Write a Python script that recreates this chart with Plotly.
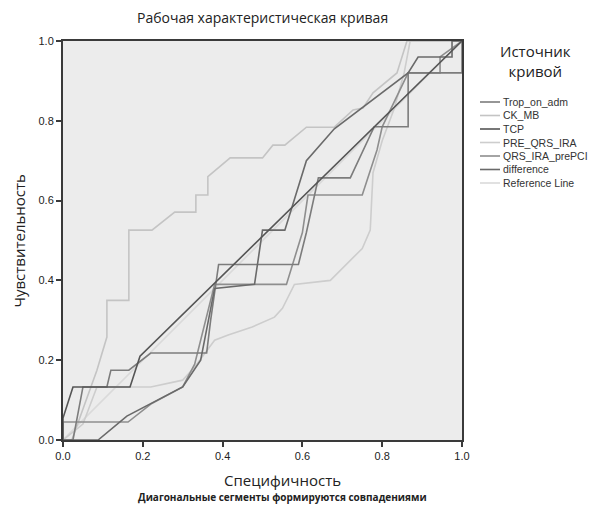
import plotly.graph_objects as go

# ---------------- data ----------------
names = ["Trop_on_adm", "CK_MB", "TCP", "PRE_QRS_IRA", "QRS_IRA_prePCI", "difference", "Reference Line"]
colors = ["#7c7c7c", "#c4c4c4", "#555555", "#cdcdcd", "#8e8e8e", "#6a6a6a", "#dadada"]

trop_x = [0, 0.025, 0.05, 0.11, 0.12, 0.165, 0.22, 0.36, 0.37, 0.39, 0.59, 0.61, 0.64, 0.72, 0.78, 0.865, 0.865, 1.0, 1.0]
trop_y = [0, 0, 0.133, 0.133, 0.175, 0.175, 0.218, 0.218, 0.30, 0.44, 0.44, 0.52, 0.657, 0.657, 0.785, 0.785, 0.92, 0.92, 1.0]

ckmb_x = [0, 0.022, 0.085, 0.11, 0.11, 0.165, 0.165, 0.223, 0.28, 0.333, 0.333, 0.363, 0.363, 0.419, 0.50, 0.526, 0.556, 0.61, 0.68, 0.727, 0.752, 0.777, 0.837, 0.862, 1.0]
ckmb_y = [0, 0, 0.175, 0.258, 0.35, 0.35, 0.526, 0.526, 0.571, 0.571, 0.614, 0.614, 0.66, 0.707, 0.707, 0.739, 0.739, 0.784, 0.784, 0.827, 0.832, 0.87, 0.92, 1.0, 1.0]

tcp_x = [0, 0, 0.025, 0.168, 0.193, 1.0]
tcp_y = [0, 0.055, 0.133, 0.133, 0.21, 1.0]

preqrs_x = [0, 0.05, 0.085, 0.22, 0.30, 0.33, 0.38, 0.414, 0.474, 0.53, 0.55, 0.58, 0.67, 0.71, 0.75, 0.77, 0.777, 0.80, 0.83, 0.855, 0.87, 1.0]
preqrs_y = [0, 0.04, 0.133, 0.133, 0.15, 0.183, 0.25, 0.263, 0.283, 0.308, 0.33, 0.39, 0.40, 0.44, 0.48, 0.526, 0.67, 0.75, 0.83, 0.92, 1.0, 1.0]

qrs_x = [0, 0, 0.163, 0.22, 0.30, 0.33, 0.38, 0.41, 0.56, 0.60, 0.614, 0.75, 0.787, 0.80, 0.865, 0.945, 0.945, 1.0]
qrs_y = [0, 0.045, 0.045, 0.09, 0.133, 0.19, 0.39, 0.39, 0.39, 0.52, 0.614, 0.614, 0.727, 0.785, 0.92, 0.92, 0.96, 1.0]

diff_x = [0, 0.088, 0.16, 0.30, 0.345, 0.38, 0.48, 0.50, 0.556, 0.61, 0.68, 0.80, 0.865, 0.89, 0.975, 0.975, 1.0]
diff_y = [0, 0, 0.06, 0.133, 0.20, 0.38, 0.39, 0.526, 0.526, 0.70, 0.78, 0.87, 0.92, 0.96, 0.96, 1.0, 1.0]

ref_x = [0, 1]
ref_y = [0, 1]

series = [(trop_x, trop_y), (ckmb_x, ckmb_y), (tcp_x, tcp_y), (preqrs_x, preqrs_y),
          (qrs_x, qrs_y), (diff_x, diff_y), (ref_x, ref_y)]

x_ticks = [0.0, 0.2, 0.4, 0.6, 0.8, 1.0]
y_ticks = [0.0, 0.2, 0.4, 0.6, 0.8, 1.0]

title_text = "Рабочая характеристическая кривая"
x_title = "Специфичность"
x_subtitle = "Диагональные сегменты формируются совпадениями"
y_title = "Чувствительность"
legend_title = "Источник<br>кривой"

# ---------------- figure ----------------
fig = go.Figure()
draw_order = [6, 3, 1, 4, 0, 5, 2]
for i in draw_order:
    xs, ys = series[i]
    fig.add_trace(go.Scatter(x=xs, y=ys, mode="lines", name=names[i],
                             line=dict(color=colors[i], width=1.6),
                             showlegend=False, hoverinfo="skip"))

W, H = 592, 506
ml, mr, mt, mb = 63, 130, 41, 66

axis_common = dict(range=[0, 1], showgrid=False, zeroline=False, showline=True,
                   linecolor="#3a3a3a", linewidth=2, mirror=True, ticks="outside",
                   ticklen=5, tickwidth=2, tickcolor="#3a3a3a",
                   tickfont=dict(family="Liberation Sans, Arial", size=11, color="#222222"),
                   tickformat=".1f")

fig.update_layout(
    width=W, height=H,
    margin=dict(l=ml, r=mr, t=mt, b=mb),
    paper_bgcolor="white", plot_bgcolor="#ececec",
    xaxis=dict(**axis_common, tickvals=x_ticks),
    yaxis=dict(**axis_common, tickvals=y_ticks),
)

fig.add_annotation(text=title_text, xref="paper", yref="paper", x=0.5, y=1, yshift=12,
                   xanchor="center", yanchor="bottom", showarrow=False,
                   font=dict(family="Open Sans", size=14, color="#222"))
fig.add_annotation(text=x_title, xref="paper", yref="paper", x=0.55, y=0, yshift=-28,
                   xanchor="center", yanchor="top", showarrow=False,
                   font=dict(family="Open Sans", size=15, color="#222"))
fig.add_annotation(text="<b>" + x_subtitle + "</b>", xref="paper", yref="paper", x=0.55, y=0, yshift=-48,
                   xanchor="center", yanchor="top", showarrow=False,
                   font=dict(family="Open Sans", size=10, color="#222"))
fig.add_annotation(text=y_title, xref="paper", yref="paper", x=0, xshift=-45, y=0.5,
                   xanchor="center", yanchor="middle", showarrow=False, textangle=-90,
                   font=dict(family="Open Sans", size=15, color="#222"))

# manual legend
fig.add_annotation(text=legend_title, xref="paper", yref="paper",
                   x=1, xshift=73, y=1, yshift=2,
                   xanchor="center", yanchor="top", showarrow=False, align="center",
                   font=dict(family="Open Sans", size=15, color="#222"))
pw = W - ml - mr
ph = H - mt - mb
for i, nm in enumerate(names):
    py = 102 + 13.5 * i
    yp = (H - mb - py) / ph
    x0 = (480 - ml) / pw
    x1 = (500 - ml) / pw
    fig.add_shape(type="line", xref="paper", yref="paper", x0=x0, x1=x1, y0=yp, y1=yp,
                  line=dict(color=colors[i], width=1.6))
    fig.add_annotation(text=nm, xref="paper", yref="paper", x=x1, xshift=1, y=yp,
                       xanchor="left", yanchor="middle", showarrow=False,
                       font=dict(family="Liberation Sans, Arial", size=10.5, color="#333"))

fig.write_html("out.html", config={"displayModeBar": False},
               post_script="document.body.style.margin='0px';")
